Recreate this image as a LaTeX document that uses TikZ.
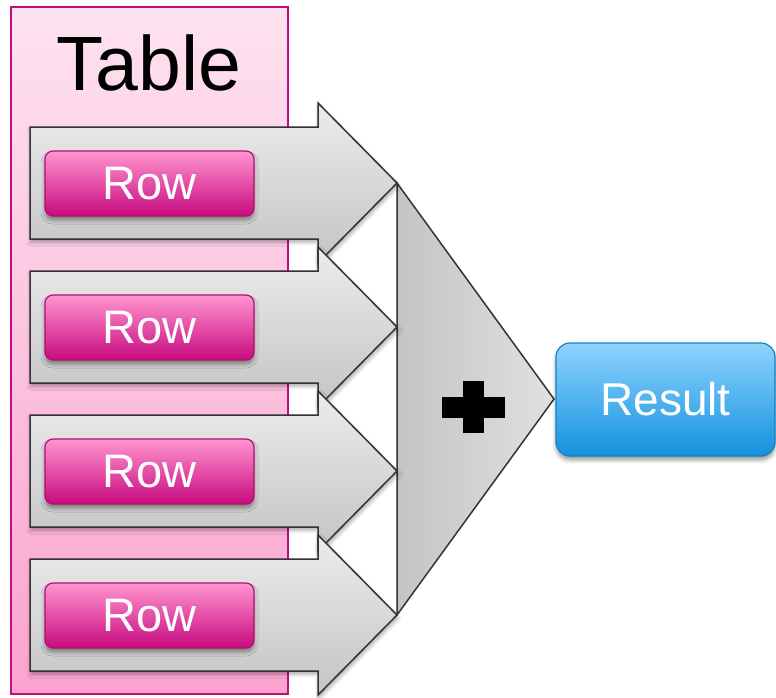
\documentclass[tikz,border=0pt]{standalone}
\usepackage{fontspec}
\setmainfont{Liberation Sans}
\usetikzlibrary{shadows.blur}

\definecolor{tabletop}{HTML}{FDE2EF}
\definecolor{tablebot}{HTML}{FBA3CF}
\definecolor{tableline}{HTML}{C0107F}
\definecolor{arrowtop}{HTML}{ECECEC}
\definecolor{arrowbot}{HTML}{C4C4C4}
\definecolor{arrowline}{HTML}{333333}
\definecolor{rowtop}{HTML}{FF95CE}
\definecolor{rowbot}{HTML}{C70A80}
\definecolor{rowline}{HTML}{B0106F}
\definecolor{restop}{HTML}{8FD3FD}
\definecolor{resbot}{HTML}{1392DF}
\definecolor{resline}{HTML}{1480C0}

\tikzset{
  tablebox/.style={draw=tableline, line width=1.5pt, top color=tabletop, bottom color=tablebot,
    minimum width=277pt, minimum height=687pt, inner sep=0pt},
  flowarrow/.style={draw=arrowline, line width=1.5pt, line join=miter, top color=arrowtop, bottom color=arrowbot,
    blur shadow={shadow xshift=1pt, shadow yshift=-3pt, shadow blur radius=4pt, shadow opacity=35}},
  funnel/.style={draw=arrowline, line width=1.5pt, left color=arrowbot, right color=arrowtop!95!black},
  rowbox/.style={draw=rowline, line width=1.2pt, rounded corners=8pt, top color=rowtop, bottom color=rowbot,
    minimum width=209pt, minimum height=65pt, inner sep=0pt, text=white,
    font=\fontsize{47}{50}\selectfont,
    blur shadow={shadow xshift=0pt, shadow yshift=-4pt, shadow blur radius=4pt, shadow opacity=40}},
  resultbox/.style={draw=resline, line width=1.2pt, rounded corners=14pt, top color=restop, bottom color=resbot,
    minimum width=219pt, minimum height=113pt, inner sep=0pt, text=white,
    font=\fontsize{46}{50}\selectfont,
    blur shadow={shadow xshift=0pt, shadow yshift=-4pt, shadow blur radius=4pt, shadow opacity=40}},
}

\begin{document}
\begin{tikzpicture}[x=1pt, y=-1pt]
\useasboundingbox (0,0) rectangle (776,697);

% table background and title
\node[tablebox] (table) at (149.5,350.5) {};
\node[anchor=base, font=\fontsize{77}{80}\selectfont] (title) at (149,90) {Table};

% the funnel that merges the rows
\coordinate (ftop) at (397,183);
\coordinate (ftip) at (554,399);
\coordinate (fbot) at (397,615);
\path[funnel] (ftop) -- (ftip) -- (fbot) -- cycle;

% one arrow and one row per record
\foreach \i/\c in {1/183, 2/327, 3/471, 4/615}{
  \path[flowarrow] (30,\c-56) -- (318,\c-56) -- (318,\c-80) -- (397,\c)
      -- (318,\c+80) -- (318,\c+56) -- (30,\c+56) -- cycle;
  \node[rowbox] (row\i) at (149.5,\c+0.5) {Row};
}

% plus sign
\fill[black] (442,397) rectangle (505,418);
\fill[black] (463,381) rectangle (484,433);

% result
\node[resultbox] (result) at (665.5,399.5) {Result};
\end{tikzpicture}
\end{document}
